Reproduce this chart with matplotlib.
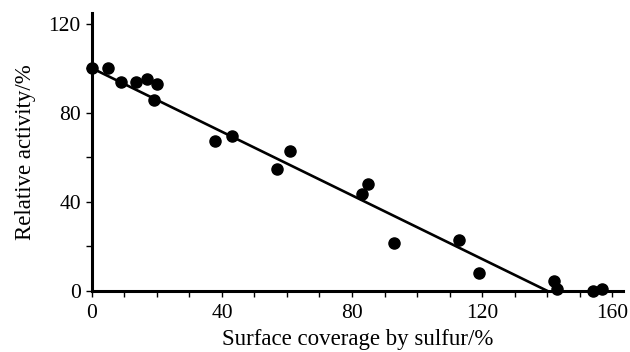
import matplotlib
matplotlib.use("Agg")
import matplotlib.pyplot as plt
from matplotlib.ticker import MultipleLocator

# surface coverage by sulfur (%) vs relative activity (%)
coverage = [0, 5, 9, 13.5, 17, 20, 19, 38, 43, 57, 61, 83, 85, 93, 113, 119, 142, 143, 154, 157]
activity = [100, 100, 94, 94, 95, 93, 85.5, 67.5, 69.5, 54.5, 63, 43.5, 48, 21.5, 23, 8, 4.5, 1, 0, 1]

# fitted line end points
fit_x = [0, 140]
fit_y = [100, 0]

plt.rcParams["font.family"] = ["Liberation Serif", "DejaVu Serif"]

fig = plt.figure(figsize=(6.3, 3.52), dpi=100)
ax = fig.add_axes([0.146, 0.174, 0.843, 0.789])

ax.plot(fit_x, fit_y, color="black", linewidth=1.9, clip_on=False)
ax.plot(coverage, activity, "o", color="black", markersize=8, clip_on=False, zorder=3)

ax.set_xlim(0, 163.4)
ax.set_ylim(0, 124.8)
ax.xaxis.set_major_locator(MultipleLocator(40))
ax.xaxis.set_minor_locator(MultipleLocator(10))
ax.yaxis.set_major_locator(MultipleLocator(40))
ax.yaxis.set_minor_locator(MultipleLocator(20))

for side in ["top", "right"]:
    ax.spines[side].set_visible(False)
for side in ["left", "bottom"]:
    ax.spines[side].set_linewidth(2.2)

ax.tick_params(which="both", direction="out", width=1.0, labelsize=15.5, color="black", length=4.5)
ax.tick_params(axis="x", pad=5)

ax.set_xlabel("Surface coverage by sulfur/%", fontsize=16.5, labelpad=4)
ax.set_ylabel("Relative activity/%", fontsize=16.5, labelpad=9)

fig.savefig("out.png", dpi=100)
